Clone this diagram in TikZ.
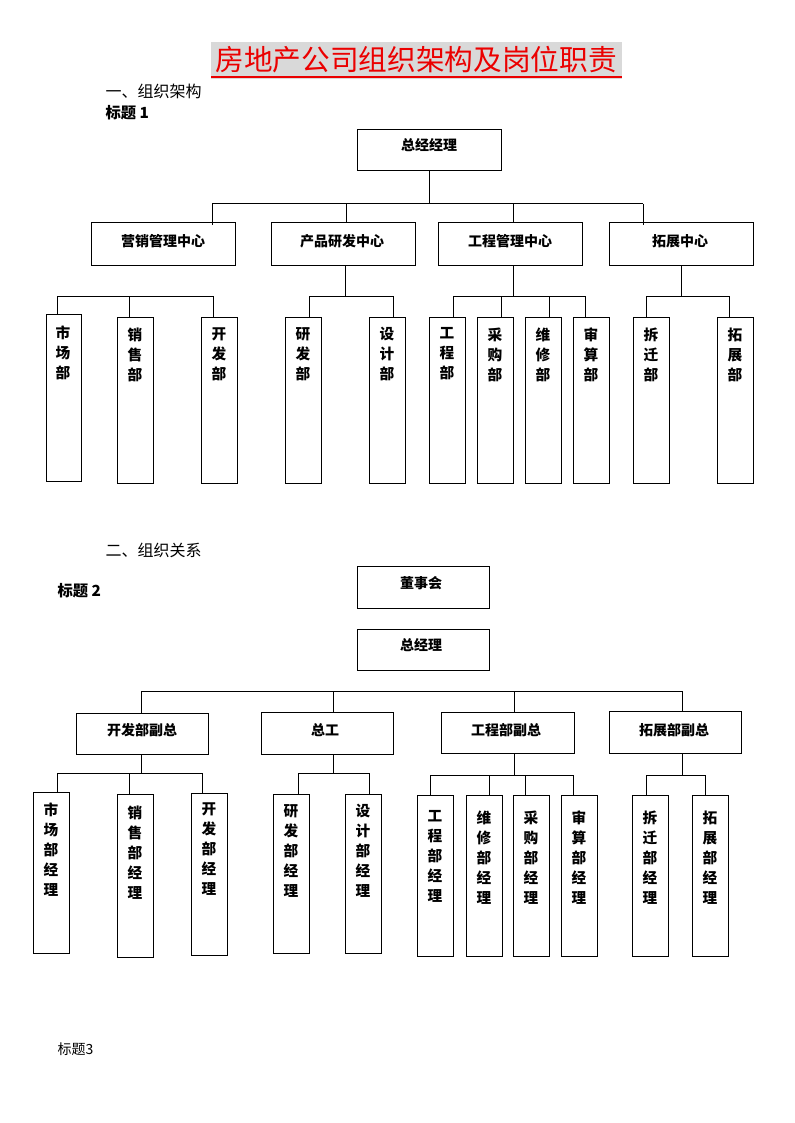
\documentclass[tikz,border=0pt]{standalone}
\usepackage{fontspec}
\setmainfont{Noto Sans CJK SC}
\definecolor{titlered}{RGB}{235,0,0}
\definecolor{titlegray}{RGB}{217,217,217}
\newcommand\bx[5]{\node[obox, minimum width={(#4-#2)*0.75pt}, minimum height={(#5-#3)*0.75pt}] (#1) at (#2,#3) {};}
\begin{document}
\begin{tikzpicture}[x=0.75pt,y=-0.75pt, line width=0.75pt,
  obox/.style={draw, inner sep=0pt, outer sep=0pt, anchor=north west},
  lbl/.style={font=\fontsize{10.5}{12}\selectfont\bfseries, inner sep=0pt},
  vlbl/.style={font=\fontsize{11}{15}\selectfont\bfseries, align=center, inner sep=0pt, anchor=north},
  head/.style={font=\fontsize{12}{14}\selectfont, inner sep=0pt, anchor=west},
  headb/.style={font=\fontsize{11.5}{14}\selectfont\bfseries, inner sep=0pt, anchor=west},
]
\useasboundingbox (0,0) rectangle (794,1123);
% ---------- title ----------
\fill[titlegray] (211,42) rectangle (622,79);
\fill[titlered] (211,76) rectangle (622,78.5);
\node[inner sep=0pt, text=titlered, font=\fontsize{21.5}{24}\selectfont] (title) at (416,60) {房地产公司组织架构及岗位职责};
\node[head] (h1) at (105,91) {一、组织架构};
\node[headb] (t1) at (105,113) {标题 1};
% ---------- section 1 ----------
\bx{gm}{357}{130}{501}{171}
\node[lbl] (gm-t) at (429,145) {总经经理};
\bx{yx}{91}{223}{235}{265}
\node[lbl] (yx-t) at (163,241) {营销管理中心};
\bx{cp}{271}{223}{415}{265}
\node[lbl] (cp-t) at (342,241) {产品研发中心};
\bx{gc}{438}{223}{582}{265}
\node[lbl] (gc-t) at (510,241) {工程管理中心};
\bx{tz}{609}{223}{753}{265}
\node[lbl] (tz-t) at (680,241) {拓展中心};
% connectors level 1-2
\draw (gm.south) -- (429,204);
\draw (212,204) -- (643,204);
\draw (212,204) -- (212,225);
\draw (346,204) -- (346,0 |- cp.north);
\draw (513,204) -- (513,0 |- gc.north);
\draw (643,204) -- (643,225);
% level 3 boxes
\bx{sc}{46}{314}{81}{481}
\node[vlbl] at (63,325) {市\\场\\部};
\bx{xs}{117}{317}{153}{483}
\node[vlbl] at (135,327) {销\\售\\部};
\bx{kf}{201}{317}{237}{483}
\node[vlbl] at (219,327) {开\\发\\部};
\bx{yf}{285}{317}{321}{483}
\node[vlbl] at (303,327) {研\\发\\部};
\bx{sj}{369}{317}{405}{483}
\node[vlbl] at (387,327) {设\\计\\部};
\bx{gcb}{429}{317}{465}{483}
\node[vlbl] at (447,327) {工\\程\\部};
\bx{cg}{477}{317}{513}{483}
\node[vlbl] at (495,327) {采\\购\\部};
\bx{wx}{525}{317}{561}{483}
\node[vlbl] at (543,327) {维\\修\\部};
\bx{ss}{573}{317}{609}{483}
\node[vlbl] at (591,327) {审\\算\\部};
\bx{cq}{633}{317}{669}{483}
\node[vlbl] at (651,327) {拆\\迁\\部};
\bx{tzb}{717}{317}{753}{483}
\node[vlbl] at (735,327) {拓\\展\\部};
% connectors level 2-3
\draw (57,296) -- (213,296);
\draw (57,296) -- (57,0 |- sc.north);
\draw (129,296) -- (129,0 |- xs.north);
\draw (213,296) -- (213,0 |- kf.north);
\draw (345,0 |- cp.south) -- (345,296);
\draw (309,296) -- (393,296);
\draw (309,296) -- (309,0 |- yf.north);
\draw (393,296) -- (393,0 |- sj.north);
\draw (513,0 |- gc.south) -- (513,296);
\draw (453,296) -- (585,296);
\draw (453,296) -- (453,0 |- gcb.north);
\draw (501,296) -- (501,0 |- cg.north);
\draw (549,296) -- (549,0 |- wx.north);
\draw (585,296) -- (585,0 |- ss.north);
\draw (681,0 |- tz.south) -- (681,296);
\draw (646,296) -- (729,296);
\draw (646,296) -- (646,0 |- cq.north);
\draw (729,296) -- (729,0 |- tzb.north);
% ---------- section 2 ----------
\node[head] (h2) at (105,550) {二、组织关系};
\node[headb] (t2) at (57,591) {标题 2};
\bx{dsh}{357}{566}{489}{608}
\node[lbl] (dsh-t) at (421,583) {董事会};
\bx{zjl}{357}{629}{489}{670}
\node[lbl] (zjl-t) at (421,645) {总经理};
\bx{kfz}{76}{713}{208}{754}
\node[lbl] (kfz-t) at (142,730) {开发部副总};
\bx{zg}{261}{712}{393}{754}
\node[lbl] (zg-t) at (325,730) {总工};
\bx{gcz}{441}{712}{574}{753}
\node[lbl] (gcz-t) at (506,730) {工程部副总};
\bx{tzz}{609}{711}{741}{753}
\node[lbl] (tzz-t) at (674,730) {拓展部副总};
\draw (141,691) -- (682,691);
\draw (141,691) -- (141,0 |- kfz.north);
\draw (333,691) -- (333,0 |- zg.north);
\draw (514,691) -- (514,0 |- gcz.north);
\draw (682,691) -- (682,0 |- tzz.north);
% level 3 boxes
\bx{scj}{33}{792}{69}{953}
\node[vlbl] at (51,802) {市\\场\\部\\经\\理};
\bx{xsj}{117}{794}{153}{957}
\node[vlbl] at (135,805) {销\\售\\部\\经\\理};
\bx{kfj}{191}{793}{227}{955}
\node[vlbl] at (209,802) {开\\发\\部\\经\\理};
\bx{yfj}{273}{794}{309}{953}
\node[vlbl] at (291,804) {研\\发\\部\\经\\理};
\bx{sjj}{345}{794}{381}{953}
\node[vlbl] at (363,804) {设\\计\\部\\经\\理};
\bx{gcj}{417}{795}{453}{956}
\node[vlbl] at (435,810) {工\\程\\部\\经\\理};
\bx{wxj}{466}{795}{502}{956}
\node[vlbl] at (484,810) {维\\修\\部\\经\\理};
\bx{cgj}{513}{795}{549}{956}
\node[vlbl] at (531,810) {采\\购\\部\\经\\理};
\bx{ssj}{561}{795}{597}{956}
\node[vlbl] at (579,810) {审\\算\\部\\经\\理};
\bx{cqj}{632}{795}{668}{956}
\node[vlbl] at (650,810) {拆\\迁\\部\\经\\理};
\bx{tzj}{692}{795}{728}{956}
\node[vlbl] at (710,810) {拓\\展\\部\\经\\理};
% connectors level 2-3
\draw (141,0 |- kfz.south) -- (141,773);
\draw (57,773) -- (202,773);
\draw (57,773) -- (57,0 |- scj.north);
\draw (129,773) -- (129,0 |- xsj.north);
\draw (202,773) -- (202,0 |- kfj.north);
\draw (333,0 |- zg.south) -- (333,773);
\draw (298,773) -- (369,773);
\draw (298,773) -- (298,0 |- yfj.north);
\draw (369,773) -- (369,0 |- sjj.north);
\draw (514,0 |- gcz.south) -- (514,775);
\draw (430,775) -- (573,775);
\draw (430,775) -- (430,0 |- gcj.north);
\draw (489,775) -- (489,0 |- wxj.north);
\draw (525,775) -- (525,0 |- cgj.north);
\draw (573,775) -- (573,0 |- ssj.north);
\draw (682,0 |- tzz.south) -- (682,775);
\draw (646,775) -- (705,775);
\draw (646,775) -- (646,0 |- cqj.north);
\draw (705,775) -- (705,0 |- tzj.north);
% ---------- footer ----------
\node[inner sep=0pt, anchor=west, font=\fontsize{10.5}{12}\selectfont] (t3) at (57,1049) {标题3};
\end{tikzpicture}
\end{document}
